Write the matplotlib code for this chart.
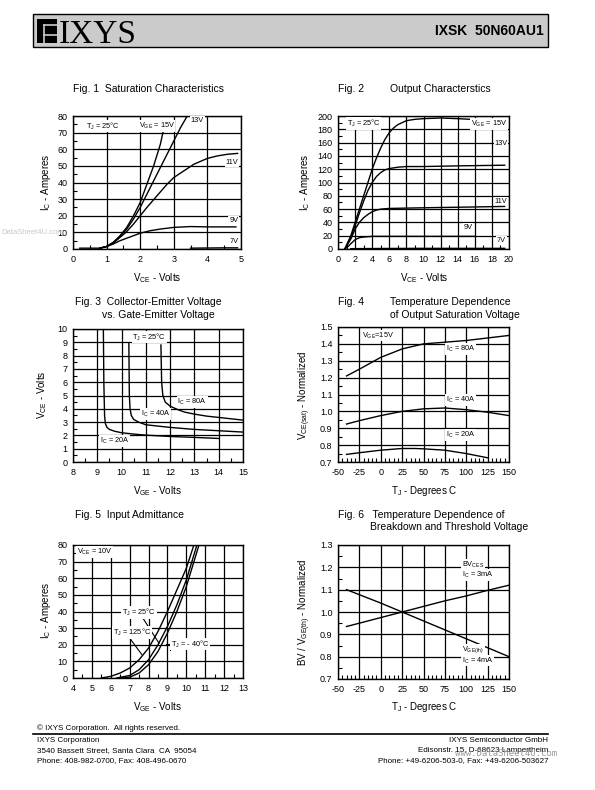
import matplotlib
matplotlib.use("Agg")
import matplotlib.pyplot as plt
from matplotlib.patches import Rectangle
from matplotlib.lines import Line2D

plt.rcParams['font.family'] = ['Liberation Sans', 'DejaVu Sans']
plt.rcParams['mathtext.fontset'] = 'custom'
plt.rcParams['mathtext.rm'] = 'Liberation Sans'
plt.rcParams['mathtext.it'] = 'Liberation Sans'
plt.rcParams['mathtext.default'] = 'regular'
plt.rcParams['axes.unicode_minus'] = False

W, H = 595, 790

# ---- data: Fig 1 saturation characteristics
f1_15_x = [0.2, 0.8, 1.0, 1.2, 1.4, 1.6, 1.8, 2.0, 2.2, 2.4, 2.6, 2.75]
f1_15_y = [0.5, 0.5, 1.5, 4, 8, 13, 20, 28, 39, 50, 63, 77]
f1_13_x = [0.8, 1.0, 1.2, 1.4, 1.6, 1.8, 2.0, 2.2, 2.4, 2.6, 2.8, 3.0, 3.2, 3.4]
f1_13_y = [0.5, 1.5, 4, 7.5, 12, 18, 25, 33, 41, 49, 57, 65, 73, 80]
f1_11_x = [0.8, 1.0, 1.2, 1.4, 1.6, 1.8, 2.0, 2.2, 2.5, 2.8, 3.0, 3.3, 3.6, 4.0, 4.3, 4.6, 4.9]
f1_11_y = [0.5, 1.5, 3.5, 7, 10.5, 15, 20, 25, 32, 39, 43, 47, 51, 54.5, 56, 57, 57.5]
f1_9_x = [0.8, 1.0, 1.2, 1.4, 1.6, 1.8, 2.0, 2.3, 2.6, 3.0, 3.5, 4.0, 4.85]
f1_9_y = [0.5, 1.5, 3, 5, 6.5, 8, 9.5, 11, 12, 13, 13.5, 13.3, 13.3]
f1_7_x = [3.5, 4.0, 4.5, 4.9]
f1_7_y = [0.5, 0.6, 0.7, 0.7]

# ---- Fig 2 output characteristics
f2_15_x = [0.8, 1.5, 2, 2.5, 3, 3.5, 4, 4.5, 5, 5.5, 6, 6.5, 7, 8, 9, 10, 12, 14, 15.5]
f2_15_y = [0, 20, 40, 60, 80, 100, 120, 137, 152, 165, 175, 182, 187, 193, 195, 196, 197, 196, 195]
f2_13_x = [0.8, 1.5, 2, 2.5, 3, 3.5, 4, 4.5, 5, 5.5, 6, 7, 8, 10, 14, 19.5]
f2_13_y = [0, 18, 35, 54, 72, 88, 100, 109, 115, 119, 121, 123, 124, 124, 125, 126]
f2_11_x = [0.8, 1.5, 2, 2.5, 3, 3.5, 4, 4.5, 5, 6, 8, 10, 15, 19.5]
f2_11_y = [0, 15, 30, 40, 47, 52, 56, 58.5, 60, 61, 61.5, 62, 63, 64]
f2_9_x = [0.8, 1.2, 1.5, 2, 2.5, 3, 4, 6, 10, 16]
f2_9_y = [0, 4, 8, 14, 17, 18, 19, 19, 19, 19]
f2_7_x = [1.5, 5, 10, 19.5]
f2_7_y = [0.5, 0.8, 1, 1]

# ---- Fig 3 VCE vs VGE
f3_20_x = [9.25, 9.27, 9.3, 9.33, 9.4, 9.5, 9.7, 10, 10.5, 11, 12, 13, 14]
f3_20_y = [10, 6, 3.5, 2.9, 2.6, 2.45, 2.32, 2.2, 2.1, 2.02, 1.92, 1.85, 1.77]
f3_40_x = [10.3, 10.32, 10.35, 10.4, 10.5, 10.7, 11, 11.5, 12, 13, 14, 15]
f3_40_y = [8.9, 5, 4.0, 3.5, 3.2, 3.0, 2.8, 2.7, 2.6, 2.45, 2.35, 2.25]
f3_80_x = [11.62, 11.65, 11.7, 11.8, 12, 12.3, 12.6, 13, 13.5, 14, 15]
f3_80_y = [8.8, 6, 5.0, 4.5, 4.2, 3.95, 3.75, 3.6, 3.45, 3.35, 3.15]

# ---- Fig 4 VCE(sat) vs temperature
f4_t = [-40, -25, 0, 25, 50, 75, 100, 125, 150]
f4_80 = [1.21, 1.25, 1.32, 1.37, 1.40, 1.41, 1.42, 1.435, 1.45]
f4_40 = [0.925, 0.945, 0.975, 1.0, 1.015, 1.02, 1.01, 0.995, 0.975]
f4_t20 = [-40, -25, 0, 25, 40, 50, 75, 100, 125]
f4_20 = [0.745, 0.755, 0.77, 0.78, 0.78, 0.778, 0.77, 0.75, 0.725]

# ---- Fig 5 input admittance
f5_125_x = [5.5, 6.0, 6.5, 7.0, 7.5, 8.0, 8.5, 9.0, 9.5, 10.0, 10.4]
f5_125_y = [0, 1, 3, 6, 11, 18, 28, 40, 53, 66, 80]
f5_25_x = [6.3, 7.0, 7.5, 8.0, 8.5, 9.0, 9.5, 10.0, 10.56]
f5_25_y = [0, 1.5, 5, 11, 20, 31, 44, 59, 80]
f5_m40_x = [6.5, 7.0, 7.5, 8.0, 8.5, 9.0, 9.5, 10.0, 10.67]
f5_m40_y = [0, 0.5, 3, 8, 16, 27, 40, 55, 80]

# ---- Fig 6 BV / VGE(th)
f6_t = [-40, 0, 25, 50, 75, 100, 125, 150]
f6_bv = [0.935, 0.975, 1.0, 1.025, 1.05, 1.072, 1.097, 1.12]
f6_vth = [1.10, 1.04, 1.0, 0.96, 0.92, 0.88, 0.84, 0.80]


def px(x, y):
    return x / W, 1 - y / H


def make_ax(x0, x1, y0, y1, xlim, ylim, xmaj, ymaj, xmin, ymin, yfmt=None):
    ax = fig.add_axes([x0 / W, 1 - y1 / H, (x1 - x0) / W, (y1 - y0) / H])
    ax.set_xlim(*xlim)
    ax.set_ylim(*ylim)
    ax.set_xticks(xmaj)
    ax.set_yticks(ymaj)
    ax.set_xticks(xmin, minor=True)
    ax.set_yticks(ymin, minor=True)
    if yfmt:
        ax.set_yticklabels([yfmt.format(v) for v in ymaj])
    ax.grid(True, which='major', color='black', lw=0.9)
    ax.tick_params(which='major', length=0, labelsize=6.5, pad=4)
    ax.tick_params(which='minor', direction='in', length=3, width=0.8)
    for s in ax.spines.values():
        s.set_linewidth(1.0)
    return ax


def lab(ax, x, y, s, ha='left'):
    ax.text(x, y, s, fontsize=5.3, ha=ha, va='center',
            bbox=dict(facecolor='white', edgecolor='none', pad=0.6), zorder=5)


fig = plt.figure(figsize=(W / 100, H / 100), dpi=100)

# header
fig.patches.append(Rectangle(px(33, 47), 515 / W, 33 / H, transform=fig.transFigure,
                             facecolor='#cbcbcb', edgecolor='black', lw=1.0))
fig.patches.append(Rectangle(px(37, 43), 20 / W, 24 / H, transform=fig.transFigure,
                             facecolor='black', edgecolor='none'))
fig.lines.append(Line2D([44 / W, 57 / W], [1 - 25 / H, 1 - 25 / H], transform=fig.transFigure,
                        color='#cbcbcb', lw=1.2))
fig.lines.append(Line2D([44 / W, 44 / W], [1 - 25 / H, 1 - 43 / H], transform=fig.transFigure,
                        color='#cbcbcb', lw=1.2))
fig.lines.append(Line2D([44 / W, 57 / W], [1 - 35 / H, 1 - 35 / H], transform=fig.transFigure,
                        color='#cbcbcb', lw=1.2))
fig.text(*px(59, 43), 'IXYS', fontsize=24, family='Liberation Serif', va='baseline')
fig.text(*px(544, 31), 'IXSK  50N60AU1', fontsize=10, weight='bold', ha='right', va='center')

# titles
fig.text(*px(73, 89), 'Fig. 1  Saturation Characteristics', fontsize=7.5, va='center')
fig.text(*px(338, 89), 'Fig. 2         Output Characterstics', fontsize=7.5, va='center')
fig.text(*px(75, 302), 'Fig. 3  Collector-Emitter Voltage', fontsize=7.5, va='center')
fig.text(*px(102, 315), 'vs. Gate-Emitter Voltage', fontsize=7.5, va='center')
fig.text(*px(338, 302), 'Fig. 4', fontsize=7.5, va='center')
fig.text(*px(390, 302), 'Temperature Dependence', fontsize=7.5, va='center')
fig.text(*px(390, 315), 'of Output Saturation Voltage', fontsize=7.5, va='center')
fig.text(*px(75, 515), 'Fig. 5  Input Admittance', fontsize=7.5, va='center')
fig.text(*px(338, 515), 'Fig. 6   Temperature Dependence of', fontsize=7.5, va='center')
fig.text(*px(370, 527), 'Breakdown and Threshold Voltage', fontsize=7.5, va='center')

# ---- Fig 1
ax1 = make_ax(73, 241, 116, 249, (0, 5), (0, 80), range(0, 6), range(0, 81, 10),
              [0.5, 1.5, 2.5, 3.5, 4.5], range(5, 80, 10))
for xs, ys in [(f1_15_x, f1_15_y), (f1_13_x, f1_13_y), (f1_11_x, f1_11_y),
               (f1_9_x, f1_9_y), (f1_7_x, f1_7_y)]:
    ax1.plot(xs, ys, color='black', lw=1.0, zorder=4)
lab(ax1, 0.4, 74, 'T$_J$ = 25°C')
lab(ax1, 1.95, 74, 'V$_{GE}$ = 15V')
lab(ax1, 3.5, 77.5, '13V')
lab(ax1, 4.55, 52, '11V')
lab(ax1, 4.65, 17, '9V')
lab(ax1, 4.65, 4.6, '7V')

# ---- Fig 2
ax2 = make_ax(338, 509, 116, 249, (0, 20), (0, 200), range(0, 21, 2), range(0, 201, 20),
              range(1, 20, 2), range(10, 200, 20))
for xs, ys in [(f2_15_x, f2_15_y), (f2_13_x, f2_13_y), (f2_11_x, f2_11_y),
               (f2_9_x, f2_9_y), (f2_7_x, f2_7_y)]:
    ax2.plot(xs, ys, color='black', lw=1.0, zorder=4)
lab(ax2, 1.0, 189, 'T$_J$ = 25°C')
lab(ax2, 19.8, 188, 'V$_{GE}$ = 15V', ha='right')
lab(ax2, 18.3, 159, '13V')
lab(ax2, 18.3, 72, '11V')
lab(ax2, 14.7, 33, '9V')
lab(ax2, 18.6, 13, '7V')

# ---- Fig 3
ax3 = make_ax(73, 243, 329, 462, (8, 15), (0, 10), range(8, 16), range(0, 11),
              [8.5, 9.5, 10.5, 11.5, 12.5, 13.5, 14.5], [0.5 + i for i in range(10)])
for xs, ys in [(f3_20_x, f3_20_y), (f3_40_x, f3_40_y), (f3_80_x, f3_80_y)]:
    ax3.plot(xs, ys, color='black', lw=1.0, zorder=4)
lab(ax3, 10.45, 9.4, 'T$_J$ = 25°C')
lab(ax3, 12.3, 4.5, 'I$_C$ = 80A')
lab(ax3, 10.8, 3.6, 'I$_C$ = 40A')
lab(ax3, 9.1, 1.55, 'I$_C$ = 20A')

# ---- Fig 4
ax4 = make_ax(338, 509, 327, 462, (-50, 150), (0.7, 1.5), range(-50, 151, 25),
              [0.7 + 0.1 * i for i in range(9)],
              [v for v in range(-50, 151, 5) if v % 25], [0.75 + 0.1 * i for i in range(8)],
              yfmt='{:.1f}')
ax4.plot(f4_t, f4_80, color='black', lw=1.0, zorder=4)
ax4.plot(f4_t, f4_40, color='black', lw=1.0, zorder=4)
ax4.plot(f4_t20, f4_20, color='black', lw=1.0, zorder=4)
lab(ax4, -22, 1.45, 'V$_{GE}$=15V')
lab(ax4, 76, 1.37, 'I$_C$ = 80A')
lab(ax4, 76, 1.066, 'I$_C$ = 40A')
lab(ax4, 76, 0.86, 'I$_C$ = 20A')

# ---- Fig 5
ax5 = make_ax(73, 243, 545, 678, (4, 13), (0, 80), range(4, 14), range(0, 81, 10),
              [4.5 + i for i in range(9)], range(5, 80, 10))
for xs, ys in [(f5_125_x, f5_125_y), (f5_25_x, f5_25_y), (f5_m40_x, f5_m40_y)]:
    ax5.plot(xs, ys, color='black', lw=1.0, zorder=4)
lab(ax5, 4.2, 76, 'V$_{CE}$ = 10V')
ax5.plot([7.7, 8.55], [36, 21], color='black', lw=0.8, zorder=4)
lab(ax5, 6.6, 39.5, 'T$_J$ = 25°C')
ax5.plot([7.0, 7.65], [24, 14], color='black', lw=0.8, zorder=4)
lab(ax5, 6.1, 27.5, 'T$_J$ = 125°C')
ax5.plot([8.9, 9.15, 9.15], [20.5, 20.5, 17], color='black', lw=0.8, zorder=4)
lab(ax5, 9.2, 20.5, 'T$_J$ = - 40°C')

# ---- Fig 6
ax6 = make_ax(338, 509, 545, 679, (-50, 150), (0.7, 1.3), range(-50, 151, 25),
              [0.7 + 0.1 * i for i in range(7)],
              [v for v in range(-50, 151, 5) if v % 25], [0.75 + 0.1 * i for i in range(6)],
              yfmt='{:.1f}')
ax6.plot(f6_t, f6_bv, color='black', lw=1.0, zorder=4)
ax6.plot(f6_t, f6_vth, color='black', lw=1.0, zorder=4)
lab(ax6, 95, 1.21, 'BV$_{CES}$')
lab(ax6, 95, 1.165, 'I$_C$ = 3mA')
lab(ax6, 95, 0.83, 'V$_{GE(th)}$')
lab(ax6, 95, 0.783, 'I$_C$ = 4mA')

# axis labels
for (x, y, s) in [(46, 182, 'I$_C$ - Amperes'), (305, 182, 'I$_C$ - Amperes'),
                  (42, 395, 'V$_{CE}$ - Volts'), (305, 395, 'V$_{CE(sat)}$ - Normalized'),
                  (46, 610, 'I$_C$ - Amperes'), (305, 612, 'BV / V$_{GE(th)}$ - Normalized')]:
    fig.text(*px(x, y), s, fontsize=7, rotation=90, ha='center', va='center')
for (x, y, s) in [(157, 278, 'V$_{CE}$ - Volts'), (424, 278, 'V$_{CE}$ - Volts'),
                  (157, 491, 'V$_{GE}$ - Volts'), (424, 491, 'T$_J$ - Degrees C'),
                  (157, 707, 'V$_{GE}$ - Volts'), (424, 707, 'T$_J$ - Degrees C')]:
    fig.text(*px(x, y), s, fontsize=7, ha='center', va='center')

# watermark near fig 1
fig.text(*px(1, 232), 'DataSheet4U.com', fontsize=5.5, color='#c8c8c8', ha='left', va='center')

# footer
fig.text(*px(37, 728), '© IXYS Corporation.  All rights reserved.', fontsize=5.8, va='center')
fig.lines.append(Line2D([33 / W, 548 / W], [1 - 734 / H, 1 - 734 / H], transform=fig.transFigure,
                        color='black', lw=1.2))
fig.text(*px(37, 741), 'IXYS Corporation', fontsize=5.8, va='center')
fig.text(*px(37, 751), '3540 Bassett Street, Santa Clara  CA  95054', fontsize=5.8, va='center')
fig.text(*px(37, 761), 'Phone: 408-982-0700, Fax: 408-496-0670', fontsize=5.8, va='center')
fig.text(*px(548, 741), 'IXYS Semiconductor GmbH', fontsize=5.8, ha='right', va='center')
fig.text(*px(548, 751), 'Edisonstr. 15, D-68623 Lampertheim', fontsize=5.8, ha='right', va='center')
fig.text(*px(548, 761), 'Phone: +49-6206-503-0, Fax: +49-6206-503627', fontsize=5.8, ha='right', va='center')
fig.text(*px(557, 753), 'www.DataSheet4U.com', fontsize=6.5, color='#9a9a9a', ha='right', va='center',
         family='DejaVu Sans Mono')

fig.savefig('out.png', dpi=100)
